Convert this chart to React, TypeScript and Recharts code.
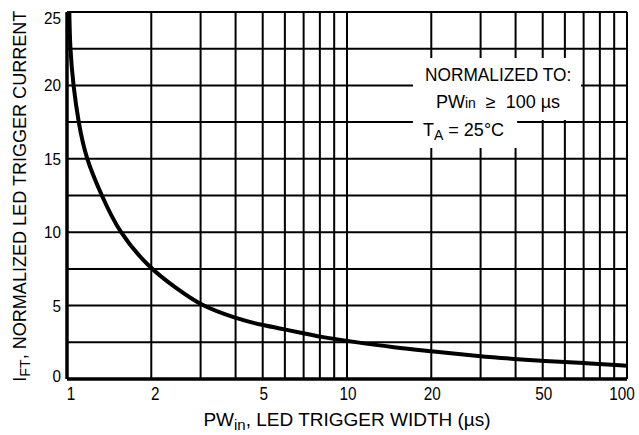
import React from 'react';
import {
  LineChart, Line, XAxis, YAxis, CartesianGrid, ReferenceArea,
} from 'recharts';

const FONT = '"Liberation Sans", Arial, sans-serif';

// pulse width (us) vs normalized trigger current
const pulseWidth = [1.018, 1.025, 1.053, 1.098, 1.169, 1.33, 1.53, 1.98, 2.46, 3, 4, 5, 6, 7, 8, 10, 15, 20, 30, 40, 50, 70, 100];
const triggerCurrent = [25.5, 22.5, 20, 17.5, 15, 12.5, 10, 7.5, 6.18, 5.0, 4.13, 3.66, 3.38, 3.11, 2.88, 2.59, 2.13, 1.9, 1.54, 1.36, 1.23, 1.09, 0.9];

const xGrid = [1, 2, 3, 4, 5, 6, 7, 8, 9, 10, 20, 30, 40, 50, 60, 70, 80, 90, 100];
const xLabels = [1, 2, 5, 10, 20, 50, 100];
const yGrid = [0, 2.5, 5, 7.5, 10, 12.5, 15, 17.5, 20, 22.5, 25];
const yLabels = [0, 5, 10, 15, 20, 25];

const data = pulseWidth.map((x, i) => ({ x, y: triggerCurrent[i] }));

const XTick = (props: any) => {
  const { x, y, payload } = props;
  if (!xLabels.includes(payload.value)) return null;
  // first and last labels sit a little inside the frame
  const dx = payload.value === 1 ? 4 : payload.value === 100 ? -5 : payload.value === 2 ? 4 : 1;
  return (
    <text transform={`translate(${x + dx},${y + 13}) scale(0.85,1)`} textAnchor="middle" fontFamily={FONT} fontSize={18} fill="#000">
      {payload.value}
    </text>
  );
};

const YTick = (props: any) => {
  const { x, y, payload } = props;
  if (!yLabels.includes(payload.value)) return null;
  const dy = payload.value === 25 ? 12 : payload.value === 0 ? 3 : 6;
  return (
    <text transform={`translate(${x + 2},${y + dy}) scale(0.9,1)`} textAnchor="end" fontFamily={FONT} fontSize={17} fill="#000">
      {payload.value}
    </text>
  );
};

const squeeze = (s: number): React.CSSProperties => ({ display: 'inline-block', transform: `scaleX(${s})`, whiteSpace: 'nowrap' });

const Note = () => (
  <div style={{ position: 'absolute', left: 0, top: 0, width: 639, height: 435, pointerEvents: 'none', fontFamily: FONT, color: '#000', lineHeight: 1 }}>
    <div style={{ position: 'absolute', left: 418, top: 66, width: 160, textAlign: 'center', fontSize: 18 }}>
      <span style={squeeze(0.96)}>NORMALIZED TO:</span>
    </div>
    <div style={{ position: 'absolute', left: 418, top: 93, width: 160, textAlign: 'center', fontSize: 18 }}>
      <span style={squeeze(1)}>PW<span style={{ fontSize: 14 }}>in</span>&nbsp;&nbsp;{'\u2265'}&nbsp;&nbsp;100 {'\u00b5'}s</span>
    </div>
    <div style={{ position: 'absolute', left: 423, top: 121, fontSize: 18 }}>
      <span style={squeeze(1)}>T<span style={{ fontSize: 14, position: 'relative', top: 4 }}>A</span> = 25°C</span>
    </div>
    <div style={{ position: 'absolute', left: 67, width: 560, top: 410, textAlign: 'center', fontSize: 19 }}>
      <span style={squeeze(1)}>PW<span style={{ fontSize: 15, position: 'relative', top: 4 }}>in</span>, LED TRIGGER WIDTH ({'\u00b5'}s)</span>
    </div>
    <div style={{
      position: 'absolute', left: 19, top: 197, width: 440, marginLeft: -220, marginTop: -10,
      textAlign: 'center', fontSize: 19, transform: 'rotate(-90deg)',
    }}>
      <span style={squeeze(0.95)}>I<span style={{ fontSize: 15, position: 'relative', top: 4 }}>FT</span>, NORMALIZED LED TRIGGER CURRENT</span>
    </div>
  </div>
);

export default function App() {
  return (
    <div style={{ position: 'absolute', left: 0, top: 0, width: 639, height: 435, background: '#fff' }}>
      <LineChart width={639} height={435} data={data} margin={{ top: 12, right: 12, left: 0, bottom: 0 }}>
        <CartesianGrid stroke="#000" strokeWidth={2} />
        <XAxis
          dataKey="x" type="number" scale="log" domain={[1, 100]} ticks={xGrid}
          allowDataOverflow interval={0} tick={<XTick />} tickLine={false}
          axisLine={{ stroke: '#000', strokeWidth: 3.5 }} height={56}
        />
        <YAxis
          type="number" domain={[0, 25]} ticks={yGrid} allowDataOverflow interval={0}
          tick={<YTick />} tickLine={false} axisLine={{ stroke: '#000', strokeWidth: 3.5 }} width={67}
        />
        <ReferenceArea x1={17.2} x2={68.5} y1={17.64} y2={21.87} fill="#fff" fillOpacity={1} stroke="none" />
        <ReferenceArea x1={17.2} x2={40.5} y1={15.74} y2={17.7} fill="#fff" fillOpacity={1} stroke="none" />
        <Line type="basis" dataKey="y" stroke="#000" strokeWidth={4} dot={false} isAnimationActive={false} />
      </LineChart>
      <Note />
    </div>
  );
}
